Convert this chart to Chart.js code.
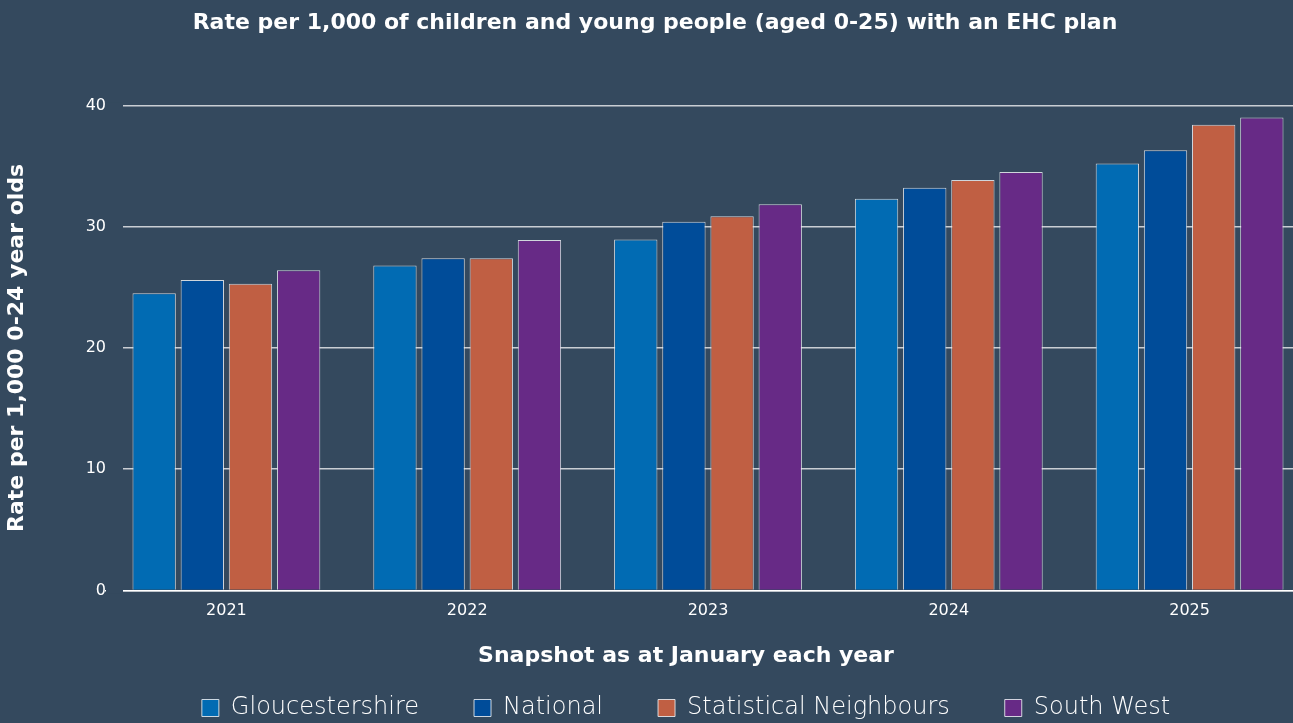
<!DOCTYPE html>
<html>
<head>
<meta charset="utf-8">
<script src="https://cdn.jsdelivr.net/npm/chart.js@4"></script>
<style>
    html, body { margin: 0; padding: 0; background: #34495e; overflow: hidden; }
    .wrap { position: relative; width: 1310px; height: 730px; }
</style>
</head>
<body>
<div class="wrap"><canvas id="chartEhc"></canvas></div>
<script>
const years = ['2021', '2022', '2023', '2024', '2025'];
const gloucestershire = [24.5, 26.8, 28.95, 32.3, 35.2];
const national = [25.6, 27.4, 30.4, 33.2, 36.3];
const statNeighbours = [25.3, 27.4, 30.85, 33.85, 38.4];
const southWest = [26.4, 28.9, 31.85, 34.5, 39.0];
const yTicks = [0, 10, 20, 30, 40];

const bg = '#34495e';
const txt = '#ffffff';
const fam = '"DejaVu Sans", Verdana, sans-serif';

// the grid in the original starts a little right of the first category slot
const gridMask = {
    id: 'gridMask',
    beforeDatasetsDraw(chart) {
        const a = chart.chartArea, ctx = chart.ctx;
        ctx.save();
        ctx.fillStyle = bg;
        ctx.fillRect(a.left, a.top - 3, 17, a.bottom - a.top + 6);
        ctx.restore();
    }
};

// legend + x title sit a bit right of the page centre
const legendShift = {
    id: 'legendShift',
    afterLayout(chart) {
        chart.legend.left += 31;
        chart.legend.right += 31;
    }
};

function ds(label, data, color) {
    return { label, data, backgroundColor: color, borderColor: 'rgba(235,238,242,0.85)', borderWidth: 1, categoryPercentage: 0.8, barPercentage: 0.9 };
}

new Chart(document.getElementById('chartEhc'), {
    type: 'bar',
    data: {
        labels: years,
        datasets: [
            ds('Gloucestershire', gloucestershire, '#016bb3'),
            ds('National', national, '#004c99'),
            ds('Statistical Neighbours', statNeighbours, '#c05f43'),
            ds('South West', southWest, '#672a86')
        ]
    },
    plugins: [gridMask, legendShift],
    options: {
        responsive: true, maintainAspectRatio: false, animation: false,
        layout: { padding: 0 },
        plugins: {
            title: { display: true, text: 'Rate per 1,000 of children and young people (aged 0-25) with an EHC plan', color: txt, font: { family: fam, size: 22, weight: 'bold' }, padding: { top: 10, bottom: 69 } },
            legend: {
                position: 'bottom',
                title: { display: true, text: 'Snapshot as at January each year', color: txt, font: { family: fam, size: 22, weight: 'bold' }, padding: { top: 14, bottom: -31 } },
                labels: { color: txt, font: { family: fam, size: 24, weight: '200' }, boxWidth: 17, boxHeight: 17, padding: 55 }
            },
            tooltip: { enabled: false }
        },
        scales: {
            x: {
                grid: { display: false, drawTicks: false },
                border: { color: '#ffffff', width: 1.5 },
                ticks: { color: txt, font: { family: fam, size: 16 }, padding: 11 }
            },
            y: {
                min: 0, max: 40,
                afterBuildTicks(s) { s.ticks = yTicks.map(v => ({ value: v })); },
                afterFit(s) { s.width = 106; },
                grid: { color: '#c9ced4', lineWidth: 1.5, drawTicks: false },
                border: { display: false },
                ticks: { color: txt, font: { family: fam, size: 16 }, padding: 0 },
                title: { display: true, text: 'Rate per 1,000 0-24 year olds', color: txt, font: { family: fam, size: 22, weight: 'bold' }, padding: { top: 4 } }
            }
        }
    }
});
</script>
</body>
</html>
